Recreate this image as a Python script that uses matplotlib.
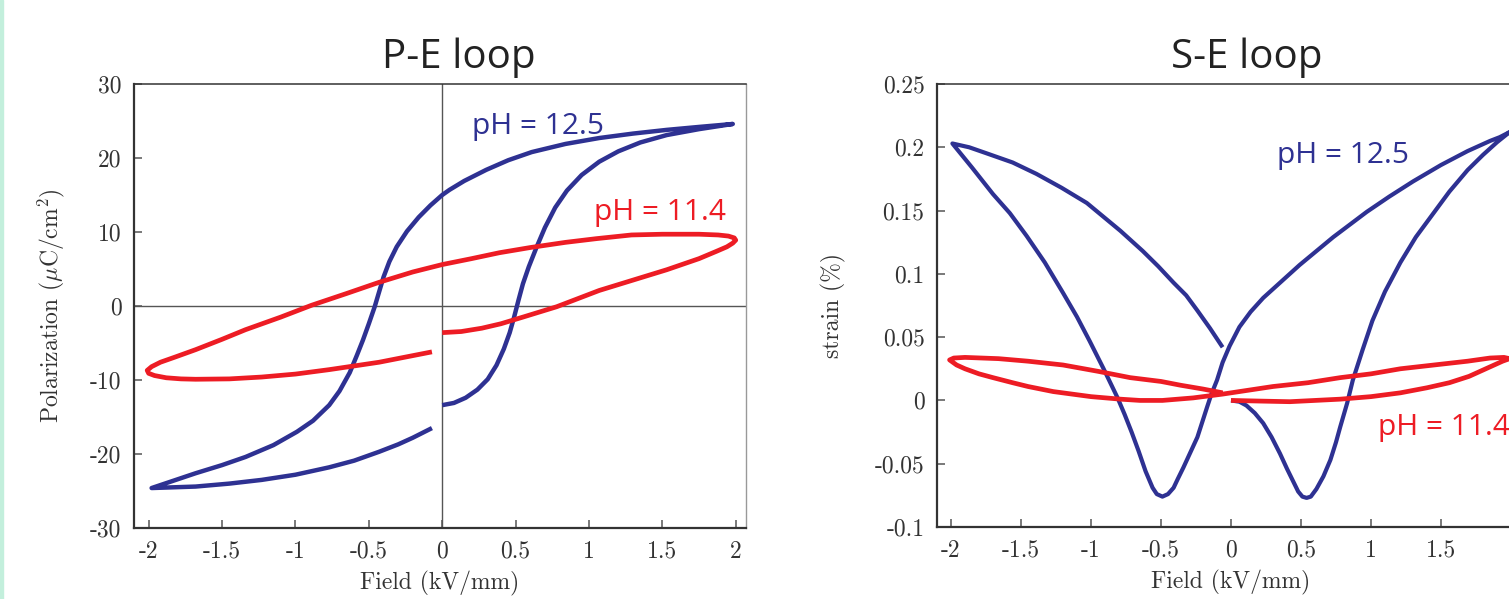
import matplotlib
matplotlib.use("Agg")
import matplotlib.pyplot as plt
from matplotlib.ticker import FuncFormatter
from matplotlib.patches import Rectangle

# P-E loop, pH = 12.5 (one continuous path)
pe_blue_x = [0.00, 0.08, 0.16, 0.24, 0.31, 0.37, 0.42, 0.46, 0.49, 0.52, 0.55, 0.59, 0.64, 0.70, 0.77, 0.85,
             0.95, 1.07, 1.20, 1.35, 1.53, 1.75, 1.98,
             1.75, 1.53, 1.30, 1.07, 0.84, 0.61, 0.45, 0.30, 0.15, 0.05, 0.00, -0.08, -0.16, -0.24, -0.31,
             -0.36, -0.40, -0.43, -0.46, -0.50, -0.54, -0.58, -0.63, -0.70, -0.77, -0.88, -0.99, -1.15, -1.34,
             -1.50, -1.68, -1.83, -1.98,
             -1.68, -1.45, -1.23, -1.00, -0.77, -0.60, -0.43, -0.30, -0.20, -0.07]
pe_blue_y = [-13.4, -13.1, -12.4, -11.3, -9.9, -8.0, -5.8, -3.6, -1.5, 0.8, 3.0, 5.3, 7.8, 10.6, 13.3, 15.6,
             17.7, 19.5, 20.9, 22.1, 23.1, 23.9, 24.6,
             24.2, 23.8, 23.3, 22.7, 21.9, 20.8, 19.7, 18.4, 16.9, 15.7, 15.0, 13.6, 12.0, 10.1, 8.0,
             6.0, 3.9, 1.9, -0.1, -2.4, -4.6, -6.6, -9.0, -11.5, -13.4, -15.5, -17.0, -18.8, -20.4,
             -21.5, -22.6, -23.6, -24.6,
             -24.4, -24.0, -23.5, -22.8, -21.8, -20.9, -19.7, -18.7, -17.8, -16.5]

# P-E loop, pH = 11.4
pe_red_x = [0.00, 0.13, 0.27, 0.40, 0.55, 0.78, 1.07, 1.30, 1.53, 1.75, 1.87, 1.94, 1.98, 2.00, 1.99, 1.95,
            1.88, 1.75, 1.50, 1.29, 1.05, 0.84, 0.60, 0.39, 0.20, 0.00, -0.20, -0.43, -0.65, -0.89, -1.10,
            -1.34, -1.50, -1.68, -1.82, -1.92, -1.98, -2.01, -2.00, -1.96, -1.88, -1.78, -1.68, -1.45, -1.23,
            -1.00, -0.77, -0.60, -0.43, -0.25, -0.07]
pe_red_y = [-3.6, -3.45, -3.0, -2.4, -1.5, -0.1, 2.1, 3.5, 4.9, 6.4, 7.4, 8.0, 8.5, 8.9, 9.2, 9.45,
            9.6, 9.7, 9.7, 9.6, 9.1, 8.6, 7.9, 7.2, 6.4, 5.6, 4.6, 3.2, 1.7, 0.1, -1.5,
            -3.2, -4.5, -5.9, -6.9, -7.6, -8.2, -8.7, -9.1, -9.4, -9.7, -9.85, -9.9, -9.85, -9.6,
            -9.2, -8.6, -8.1, -7.6, -6.9, -6.2]

# S-E loop, pH = 12.5
se_blue_x = [0.00, 0.06, 0.11, 0.17, 0.23, 0.29, 0.35, 0.40, 0.44, 0.48, 0.51, 0.54, 0.57, 0.61, 0.66, 0.71,
             0.75, 0.78, 0.83, 0.87, 0.94, 1.01, 1.10, 1.21, 1.32, 1.44, 1.56, 1.69, 1.80, 1.90, 1.99,
             1.92, 1.85, 1.69, 1.50, 1.30, 1.13, 0.97, 0.85, 0.73, 0.61, 0.49, 0.40, 0.33, 0.23,
             0.14, 0.06, -0.01, -0.06, -0.10, -0.14, -0.17, -0.24, -0.29, -0.34, -0.38, -0.41, -0.45, -0.49,
             -0.53, -0.56, -0.61, -0.66, -0.71, -0.76, -0.81, -0.91, -1.01, -1.10, -1.20, -1.33, -1.46, -1.58,
             -1.70, -1.85, -1.99,
             -1.87, -1.74, -1.56, -1.39, -1.21, -1.03, -0.91, -0.79, -0.63, -0.52, -0.41, -0.32, -0.24, -0.15,
             -0.06]
se_blue_y = [0.000, -0.001, -0.004, -0.010, -0.018, -0.029, -0.042, -0.054, -0.063, -0.072, -0.076, -0.077,
             -0.076, -0.070, -0.060, -0.047, -0.033, -0.021, -0.002, 0.016, 0.040, 0.063, 0.086, 0.109, 0.129,
             0.147, 0.165, 0.182, 0.194, 0.204, 0.212,
             0.208, 0.205, 0.197, 0.186, 0.173, 0.161, 0.149, 0.139, 0.129, 0.118, 0.107, 0.098, 0.091, 0.081,
             0.070, 0.058, 0.043, 0.030, 0.016, 0.005, -0.005, -0.029, -0.041, -0.053, -0.062,
             -0.069, -0.074, -0.076, -0.074, -0.069, -0.056, -0.040, -0.025, -0.011, 0.002, 0.025, 0.047, 0.066,
             0.085, 0.109, 0.130, 0.148, 0.163, 0.184, 0.203,
             0.200, 0.195, 0.188, 0.179, 0.168, 0.156, 0.145, 0.134, 0.118, 0.106, 0.093, 0.083, 0.071, 0.057,
             0.042]

# S-E loop, pH = 11.4
se_red_x = [0.00, 0.20, 0.42, 0.60, 0.78, 1.00, 1.21, 1.40, 1.56, 1.70, 1.80, 1.88, 1.94, 1.99,
            1.95, 1.85, 1.69, 1.45, 1.21, 1.00, 0.78, 0.55, 0.30, 0.12, -0.06, -0.27, -0.49, -0.65, -0.79,
            -1.00, -1.27, -1.45, -1.56, -1.70, -1.80, -1.90, -1.96, -2.01,
            -1.98, -1.90, -1.66, -1.45, -1.20, -0.95, -0.72, -0.50, -0.36, -0.20, -0.06]
se_red_y = [0.000, -0.0005, -0.001, 0.000, 0.001, 0.003, 0.006, 0.010, 0.014, 0.019, 0.024, 0.028, 0.031, 0.033,
            0.034, 0.0335, 0.031, 0.028, 0.025, 0.021, 0.018, 0.014, 0.011, 0.008, 0.005, 0.002, 0.000, 0.000,
            0.001, 0.003, 0.007, 0.011, 0.014, 0.018, 0.021, 0.025, 0.028, 0.032,
            0.0335, 0.034, 0.033, 0.031, 0.028, 0.023, 0.018, 0.015, 0.012, 0.009, 0.006]

pe_xticks = [-2, -1.5, -1, -0.5, 0, 0.5, 1, 1.5, 2]
pe_yticks = [-30, -20, -10, 0, 10, 20, 30]
se_xticks = [-2, -1.5, -1, -0.5, 0, 0.5, 1, 1.5]
se_yticks = [-0.1, -0.05, 0, 0.05, 0.1, 0.15, 0.2, 0.25]

blue = '#2E3192'
red = '#ED1C24'

plt.rcParams['font.family'] = 'cmr10'
plt.rcParams['mathtext.fontset'] = 'cm'
plt.rcParams['axes.unicode_minus'] = False
plt.rcParams['axes.formatter.use_mathtext'] = True

W, H = 1509, 599
fig = plt.figure(figsize=(W / 100, H / 100), dpi=100)
fig.patches.append(Rectangle((0, 0), 3 / W, 1, transform=fig.transFigure, color='#c3efdc', zorder=0))

fmt = FuncFormatter(lambda v, p: '%g' % v)


def style(ax):
    for s in ['left', 'bottom']:
        ax.spines[s].set_linewidth(1.6)
        ax.spines[s].set_color('#333333')
    ax.spines['top'].set_linewidth(1.1)
    ax.spines['top'].set_color('#333333')
    ax.spines['right'].set_linewidth(1.0)
    ax.spines['right'].set_color('#999999')
    ax.tick_params(direction='in', length=6, width=1.1, color='#555555',
                   labelsize=17, pad=9, top=False, right=False, labelcolor='#333333')
    ax.xaxis.set_major_formatter(fmt)
    ax.yaxis.set_major_formatter(fmt)


# left panel
ax1 = fig.add_axes([134 / W, 1 - 528 / H, 612 / W, 444 / H])
style(ax1)
ax1.axhline(0, color='#555555', lw=1.0, zorder=1)
ax1.axvline(0, color='#555555', lw=1.0, zorder=1)
ax1.plot(pe_blue_x, pe_blue_y, color=blue, lw=3.2, solid_capstyle='butt', solid_joinstyle='round', zorder=3)
ax1.plot(pe_red_x, pe_red_y, color=red, lw=3.4, solid_capstyle='butt', solid_joinstyle='round', zorder=3)
ax1.set_xlim(-2.1, 2.07)
ax1.set_ylim(-30, 30)
ax1.set_xticks(pe_xticks)
ax1.set_yticks(pe_yticks)
ax1.set_xlabel('Field (kV/mm)', fontsize=17, color='#333333', labelpad=6)
ax1.set_ylabel(r'Polarization ($\mu$C/cm$^2$)', fontsize=17, color='#333333')
ax1.yaxis.set_label_coords(-0.11, 0.5)
ax1.text(0.2, 24.3, 'pH = 12.5', family='Open Sans', fontsize=21.5, color=blue, va='center')
ax1.text(1.035, 12.6, 'pH = 11.4', family='Open Sans', fontsize=21.5, color=red, va='center')

# right panel (extends past the right edge of the picture)
ax2 = fig.add_axes([937 / W, 1 - 527 / H, 588 / W, 443 / H])
style(ax2)
ax2.plot(se_blue_x, se_blue_y, color=blue, lw=3.0, solid_capstyle='butt', solid_joinstyle='round', zorder=3)
ax2.plot(se_red_x, se_red_y, color=red, lw=3.4, solid_capstyle='butt', solid_joinstyle='round', zorder=3)
ax2.set_xlim(-2.1, 2.1)
ax2.set_ylim(-0.1, 0.25)
ax2.set_xticks(se_xticks)
ax2.set_yticks(se_yticks)
ax2.set_xlabel('Field (kV/mm)', fontsize=17, color='#333333', labelpad=6)
ax2.set_ylabel('strain (%)', fontsize=17, color='#333333')
ax2.yaxis.set_label_coords(-0.155, 0.5)
ax2.text(0.33, 0.1935, 'pH = 12.5', family='Open Sans', fontsize=21.5, color=blue, va='center')
ax2.text(1.05, -0.0213, 'pH = 11.4', family='Open Sans', fontsize=21.5, color=red, va='center')

fig.text(459 / W, 1 - 68 / H, 'P-E loop', family='Open Sans', fontsize=29, color='#222222',
         ha='center', va='baseline')
fig.text(1247 / W, 1 - 68 / H, 'S-E loop', family='Open Sans', fontsize=29, color='#222222',
         ha='center', va='baseline')

fig.savefig('out.png', dpi=100)
